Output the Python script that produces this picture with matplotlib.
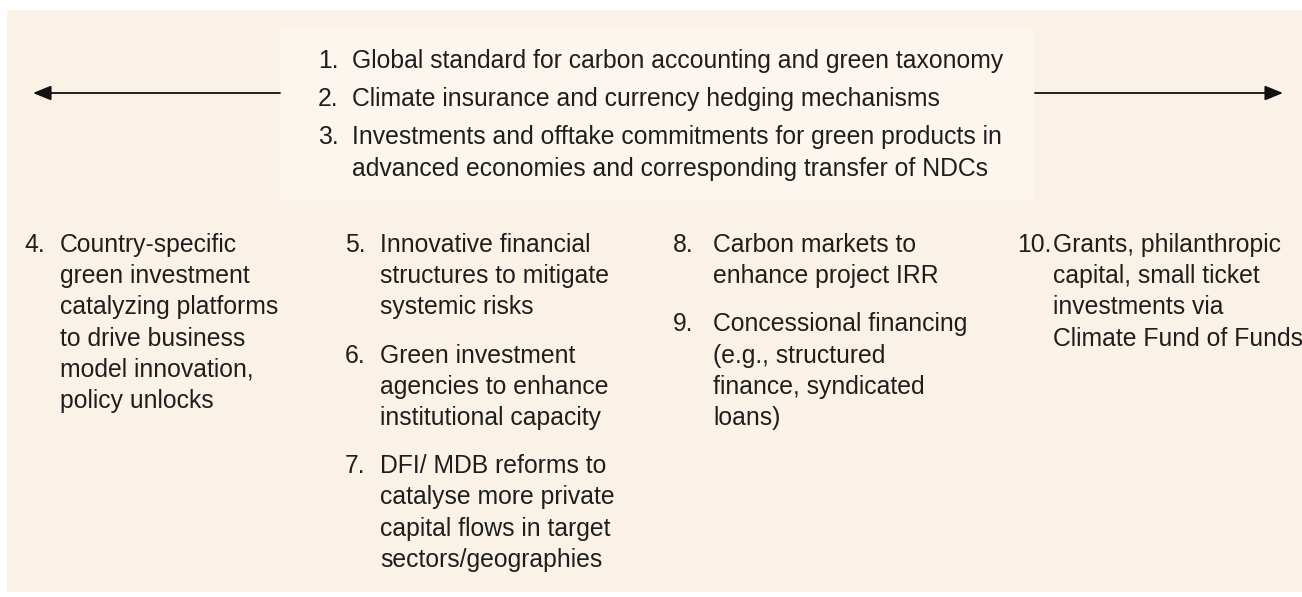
import matplotlib
matplotlib.use("Agg")
from matplotlib import pyplot as plt
from matplotlib.patches import Rectangle

# item texts, one list of lines per item
topNumbers = ["1.", "2.", "3."]
topItems = [
    ["Global standard for carbon accounting and green taxonomy"],
    ["Climate insurance and currency hedging mechanisms"],
    ["Investments and offtake commitments for green products in",
     "advanced economies and corresponding transfer of NDCs"],
]
colNumbers = [["4."], ["5.", "6.", "7."], ["8.", "9."], ["10."]]
colItems = [
    [["Country-specific", "green investment", "catalyzing platforms",
      "to drive business", "model innovation,", "policy unlocks"]],
    [["Innovative financial", "structures to mitigate", "systemic risks"],
     ["Green investment", "agencies to enhance", "institutional capacity"],
     ["DFI/ MDB reforms to", "catalyse more private",
      "capital flows in target", "sectors/geographies"]],
    [["Carbon markets to", "enhance project IRR"],
     ["Concessional financing", "(e.g., structured",
      "finance, syndicated", "loans)"]],
    [["Grants, philanthropic", "capital, small ticket",
      "investments via", "Climate Fund of Funds"]],
]

W, H = 1302, 597
bgColor = "#FAF2E6"
boxColor = "#FCF6EE"
textColor = "#1E1E1E"
fontSize = 17.8
linePitch = 31.2
itemGap = 17

plt.rcParams["font.family"] = ["Liberation Sans", "DejaVu Sans"]
fig = plt.figure(figsize=(W / 100, H / 100), dpi=100)
fig.set_facecolor("white")
ax = fig.add_axes([0, 0, 1, 1])
ax.set_xlim(0, W)
ax.set_ylim(H, 0)
ax.axis("off")

ax.add_patch(Rectangle((7, 10), W - 7, 582, facecolor=bgColor, edgecolor="none"))
ax.add_patch(Rectangle((280, 28), 753, 172, facecolor=boxColor, edgecolor="none"))

arrowProps = dict(arrowstyle="-|>,head_length=1.1,head_width=0.45", color="#111111", lw=1.3,
                  shrinkA=0, shrinkB=0)
ax.annotate("", xy=(33, 93), xytext=(280, 93), arrowprops=arrowProps)
ax.annotate("", xy=(1283, 93), xytext=(1035, 93), arrowprops=arrowProps)


def drawItems(numbers, items, numX, textX, y0, gap):
    y = y0
    for num, lines in zip(numbers, items):
        ax.text(numX, y, num, fontsize=fontSize, color=textColor, va="center", ha="left")
        for i, line in enumerate(lines):
            ax.text(textX, y + i * linePitch, line, fontsize=fontSize, color=textColor,
                    va="center", ha="left")
        y += len(lines) * linePitch + gap


drawItems(topNumbers, topItems, 318, 352, 61, 7)
colNumX = [24, 345, 673, 1017]
colTextX = [60, 380, 713, 1053]
for nums, items, nx, tx in zip(colNumbers, colItems, colNumX, colTextX):
    drawItems(nums, items, nx, tx, 245, itemGap)

fig.savefig("out.png", dpi=100)
